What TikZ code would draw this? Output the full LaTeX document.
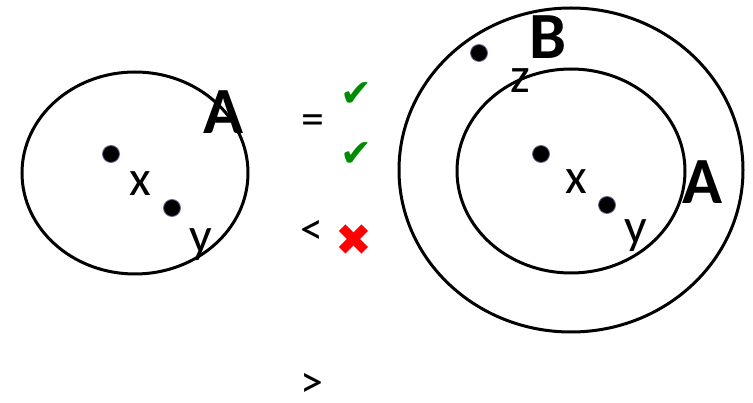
\documentclass[tikz,border=0pt]{standalone}
\usepackage{fontspec}
\setmainfont{Carlito}
\newfontfamily\symfont{DejaVu Sans}
\begin{document}
\begin{tikzpicture}[x=1pt,y=-1pt,
  ring/.style={draw=black,line width=3pt},
  dot/.style={circle,fill=black,draw=black!70!blue!60,line width=0.8pt,minimum size=17pt,inner sep=0pt},
  big/.style={font=\fontsize{66}{66}\selectfont\bfseries,inner sep=0pt},
  lbl/.style={font=\fontsize{50}{50}\selectfont,inner sep=0pt},
  rel/.style={font=\fontsize{46}{46}\selectfont,inner sep=0pt},
  ok/.style={font=\symfont\fontsize{38}{38}\selectfont,text=green!55!black,inner sep=0pt},
  no/.style={font=\symfont\fontsize{44}{44}\selectfont,text=red,inner sep=0pt}]
\useasboundingbox (0,0) rectangle (753,403);
% left
\draw[ring] (135,173) ellipse [x radius=113, y radius=101];
\node[big] (A1) at (223,112) {A};
\node[dot] (d1) at (111,154) {};
\node[dot] (d2) at (172,208) {};
\node[lbl] (x1) at (140,184) {x};
\node[lbl] (y1) at (201,245) {y};
% middle
\node[rel] (eq) at (313,125) {=};
\node[rel] (lt) at (312,232) {<};
\node[rel] (gt) at (312,385) {>};
\node[ok] (c1) at (356,95) {✔};
\node[ok] (c2) at (356,155) {✔};
\node[no] (c3) at (354,240) {✖};
% right
\draw[ring] (571,170) ellipse [x radius=172, y radius=162];
\draw[ring] (571,171) ellipse [x radius=114, y radius=102];
\node[big] (B) at (548,37) {B};
\node[dot] (d3) at (479,53) {};
\node[lbl] (z) at (520,81) {z};
\node[dot] (d4) at (541,154) {};
\node[lbl] (x2) at (576,182) {x};
\node[dot] (d5) at (607,205) {};
\node[lbl] (y2) at (636,236) {y};
\node[big] (A2) at (702,182) {A};
\end{tikzpicture}
\end{document}
